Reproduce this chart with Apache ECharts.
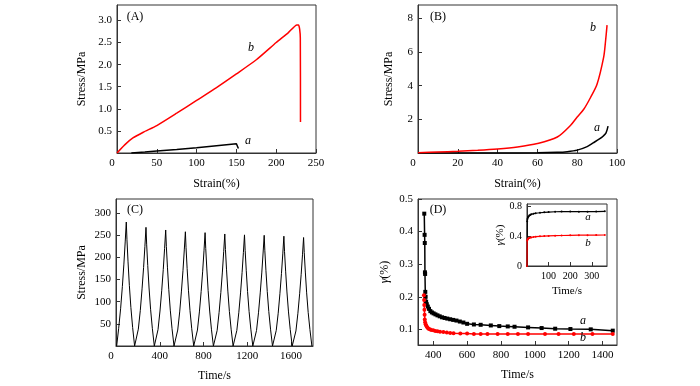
<!DOCTYPE html>
<html><head><meta charset="utf-8">
<script src="https://cdn.jsdelivr.net/npm/echarts@6/dist/echarts.min.js"></script>
<style>html,body{margin:0;padding:0;background:#fff}#c{width:700px;height:386px}</style>
</head><body><div id="c"></div>
<script>
// ---------- Panel A : tensile stress-strain ----------
const aStrainA = [18, 35, 50, 75, 100, 125, 150, 152, 152.5];
const aStressA = [0, 0.02, 0.045, 0.08, 0.12, 0.165, 0.21, 0.215, 0.10];
const bStrainA = [0, 10, 20, 33, 50, 75, 100, 125, 150, 175, 200, 215, 226, 228, 229.5, 230.3, 230.5];
const bStressA = [0, 0.19, 0.34, 0.47, 0.62, 0.9, 1.19, 1.48, 1.79, 2.11, 2.5, 2.72, 2.9, 2.9, 2.8, 2.6, 0.7];
const xTicksA = [0, 50, 100, 150, 200, 250];
const yTicksA = [0.5, 1.0, 1.5, 2.0, 2.5, 3.0];

// ---------- Panel B : compressive stress-strain ----------
const aStrainB = [0, 20, 40, 60, 70, 75, 80, 85, 88, 91, 93, 94.5, 95.5];
const aStressB = [0, 0, 0, 0.01, 0.04, 0.08, 0.17, 0.38, 0.6, 0.82, 1.0, 1.2, 1.6];
const bStrainB = [0, 10, 20, 30, 40, 50, 60, 70, 76.7, 80, 83.3, 86.7, 90, 93.3, 94.2, 95];
const bStressB = [0.02, 0.06, 0.1, 0.16, 0.24, 0.36, 0.56, 0.95, 1.65, 2.14, 2.6, 3.3, 4.1, 5.7, 6.6, 7.6];
const xTicksB = [0, 20, 40, 60, 80, 100];
const yTicksB = [2, 4, 6, 8];

// ---------- Panel C : cyclic compression ----------
const cTime = [
  6, 24, 42, 58, 72, 84, 94, 100, 110, 122, 136, 152, 170,
  186, 204, 222, 238, 252, 264, 274, 280, 290, 302, 316, 332, 350,
  366, 384, 402, 418, 432, 444, 454, 460, 470, 482, 496, 512, 530,
  546, 564, 582, 598, 612, 624, 634, 640, 650, 662, 676, 692, 710,
  726, 744, 762, 778, 792, 804, 814, 820, 830, 842, 856, 872, 890,
  906, 924, 942, 958, 972, 984, 994, 1000, 1010, 1022, 1036, 1052, 1070,
  1086, 1104, 1122, 1138, 1152, 1164, 1174, 1180, 1190, 1202, 1216, 1232, 1250,
  1266, 1284, 1302, 1318, 1332, 1344, 1354, 1360, 1370, 1382, 1396, 1412, 1430,
  1446, 1464, 1482, 1498, 1512, 1524, 1534, 1540, 1550, 1562, 1576, 1592, 1610,
  1626, 1644, 1662, 1678, 1692, 1704, 1714, 1720, 1730, 1742, 1756, 1772, 1790
];
const cStress = [
  0, 39, 84, 134, 185, 235, 280, 241, 190, 137, 87, 42, 0,
  0, 38, 80, 129, 177, 225, 268, 230, 182, 131, 83, 40, 0,
  0, 37, 79, 126, 173, 220, 262, 225, 178, 128, 81, 39, 0,
  0, 36, 77, 124, 170, 217, 258, 222, 175, 126, 80, 39, 0,
  0, 36, 77, 123, 169, 215, 256, 220, 174, 125, 79, 38, 0,
  0, 35, 76, 121, 167, 213, 253, 218, 172, 124, 78, 38, 0,
  0, 35, 75, 120, 166, 211, 251, 216, 171, 123, 78, 38, 0,
  0, 35, 75, 120, 165, 210, 250, 215, 170, 123, 78, 38, 0,
  0, 35, 74, 119, 164, 208, 248, 213, 169, 122, 77, 37, 0,
  0, 34, 74, 118, 162, 206, 245, 211, 167, 120, 76, 37, 0
];
const xTicksC = [0, 400, 800, 1200, 1600];
const yTicksC = [50, 100, 150, 200, 250, 300];

// ---------- Panel D : creep recovery ----------
const aTimeD = [347, 349, 350, 351, 352, 353, 355, 358, 362, 368, 375, 383, 392, 402, 413, 425, 438, 452, 467, 483, 500, 518, 537, 557, 578, 600, 640, 680, 740, 790, 840, 880, 960, 1040, 1120, 1210, 1330, 1460];
const aGammaD = [0.455, 0.39, 0.365, 0.275, 0.27, 0.215, 0.2, 0.185, 0.177, 0.17, 0.163, 0.156, 0.152, 0.149, 0.146, 0.143, 0.14, 0.137, 0.135, 0.133, 0.131, 0.129, 0.127, 0.124, 0.121, 0.117, 0.115, 0.114, 0.112, 0.11, 0.109, 0.108, 0.106, 0.104, 0.102, 0.101, 0.1, 0.096];
const bTimeD = [345, 346, 347, 348, 349, 350, 352, 355, 358, 362, 367, 372, 380, 388, 400, 412, 425, 440, 460, 480, 500, 520, 560, 600, 640, 680, 720, 780, 840, 900, 960, 1060, 1140, 1230, 1340, 1460];
const bGammaD = [0.205, 0.19, 0.175, 0.16, 0.145, 0.13, 0.122, 0.116, 0.112, 0.108, 0.105, 0.102, 0.1, 0.098, 0.097, 0.095, 0.094, 0.093, 0.092, 0.09, 0.089, 0.088, 0.087, 0.087, 0.086, 0.086, 0.086, 0.086, 0.086, 0.086, 0.086, 0.086, 0.086, 0.086, 0.086, 0.086];
const xTicksD = [400, 600, 800, 1000, 1200, 1400];
const yTicksD = [0.1, 0.2, 0.3, 0.4, 0.5];

// ---------- Inset of D ----------
const insetTime = [0, 1, 2, 4, 6, 10, 15, 20, 30, 40, 60, 80, 100, 130, 160, 200, 240, 280, 320, 360];
const insetA = [0, 0.6, 0.63, 0.65, 0.66, 0.675, 0.685, 0.692, 0.7, 0.706, 0.713, 0.718, 0.722, 0.726, 0.728, 0.728, 0.727, 0.727, 0.728, 0.732];
const insetB = [0, 0.34, 0.355, 0.365, 0.37, 0.375, 0.38, 0.383, 0.388, 0.392, 0.397, 0.4, 0.403, 0.406, 0.408, 0.41, 0.412, 0.413, 0.414, 0.415];
const xTicksIn = [100, 200, 300];
const yTicksIn = [0, 0.4, 0.8];

const FONT = "'Liberation Serif', 'DejaVu Serif', serif";
const AX = '#333';
const pair = (xs, ys) => xs.map((x, i) => [x, ys[i]]);

function xAx(gi, min, max, ticks, name, gap, fs, fmt) {
  return {
    type: 'value', gridIndex: gi, min, max, name, nameLocation: 'middle', nameGap: gap,
    nameTextStyle: { fontFamily: FONT, fontSize: fs + 1, color: '#000' },
    axisLine: { show: true, onZero: false, lineStyle: { color: AX, width: 1 } },
    axisTick: { show: true, inside: true, length: 4, customValues: ticks, lineStyle: { color: AX } },
    axisLabel: { customValues: ticks, fontFamily: FONT, fontSize: fs, color: '#000', margin: 5,
      formatter: fmt || (v => (v === 0 ? '{o|0}' : String(v))),
      rich: { o: { fontFamily: FONT, fontSize: fs, color: '#000', padding: [0, 10, 0, 0] } } },
    splitLine: { show: false }
  };
}
function yAx(gi, min, max, ticks, name, gap, fs, fmt, nameRich) {
  return {
    type: 'value', gridIndex: gi, min, max, name, nameLocation: 'middle', nameGap: gap,
    nameTextStyle: { fontFamily: FONT, fontSize: fs + 1, color: '#000', rich: nameRich },
    axisLine: { show: true, onZero: false, lineStyle: { color: AX, width: 1 } },
    axisTick: { show: true, inside: true, length: 4, customValues: ticks, lineStyle: { color: AX } },
    axisLabel: { customValues: ticks, fontFamily: FONT, fontSize: fs, color: '#000', margin: 5, formatter: fmt },
    splitLine: { show: false }
  };
}
const gRich = { g: { fontFamily: FONT, fontStyle: 'italic', fontSize: 12, color: '#000' } };
const gRichS = { g: { fontFamily: FONT, fontStyle: 'italic', fontSize: 11, color: '#000' } };

function txt(x, y, s, italic, fs) {
  return { type: 'text', x, y, z: 100, style: { text: s, fill: '#000', fontFamily: FONT,
    fontSize: fs || 12, fontStyle: italic ? 'italic' : 'normal', align: 'center', verticalAlign: 'middle' } };
}

const chart = echarts.init(document.getElementById('c'), null, { renderer: 'canvas' });
chart.setOption({
  animation: false,
  backgroundColor: '#fff',
  grid: [
    { left: 117, top: 5, width: 199, height: 148, show: true, borderColor: AX, borderWidth: 1 },
    { left: 418, top: 5, width: 199, height: 148, show: true, borderColor: AX, borderWidth: 1 },
    { left: 116, top: 199, width: 197, height: 147, show: true, borderColor: AX, borderWidth: 1 },
    { left: 418, top: 199, width: 199, height: 146, show: true, borderColor: AX, borderWidth: 1 },
    { left: 527, top: 204, width: 80, height: 62, show: true, borderColor: AX, borderWidth: 1, backgroundColor: '#fff', z: 5 }
  ],
  xAxis: [
    xAx(0, 0, 250, xTicksA, 'Strain(%)', 25, 11),
    xAx(1, 0, 100, xTicksB, 'Strain(%)', 25, 11),
    xAx(2, 0, 1800, xTicksC, 'Time/s', 24, 11),
    xAx(3, 310, 1485, xTicksD, 'Time/s', 24, 11, v => String(v)),
    Object.assign(xAx(4, 0, 370, xTicksIn, 'Time/s', 20, 10, v => String(v)), { z: 6 })
  ],
  yAxis: [
    yAx(0, 0, 3.35, yTicksA, 'Stress/MPa', 29, 11, v => v.toFixed(1)),
    yAx(1, 0, 8.8, yTicksB, 'Stress/MPa', 23, 11, v => String(v)),
    yAx(2, 0, 332, yTicksC, 'Stress/MPa', 28, 11, v => String(v)),
    yAx(3, 0.052, 0.5, yTicksD, '{g|γ}(%)', 27, 11, v => v.toFixed(1), gRich),
    Object.assign(yAx(4, 0, 0.83, yTicksIn, '{g|γ}(%)', 15, 10, v => (v === 0 ? '0' : v.toFixed(1)), gRichS), { z: 6 })
  ],
  series: [
    { type: 'line', xAxisIndex: 0, yAxisIndex: 0, data: pair(bStrainA, bStressA), showSymbol: false, smooth: 0.2,
      lineStyle: { color: '#ff0000', width: 1.5 }, itemStyle: { color: '#ff0000' } },
    { type: 'line', xAxisIndex: 0, yAxisIndex: 0, data: pair(aStrainA, aStressA), showSymbol: false,
      lineStyle: { color: '#000', width: 1.5 }, itemStyle: { color: '#000' } },
    { type: 'line', xAxisIndex: 1, yAxisIndex: 1, data: pair(aStrainB, aStressB), showSymbol: false, smooth: 0.3,
      lineStyle: { color: '#000', width: 1.5 }, itemStyle: { color: '#000' } },
    { type: 'line', xAxisIndex: 1, yAxisIndex: 1, data: pair(bStrainB, bStressB), showSymbol: false, smooth: 0.3,
      lineStyle: { color: '#ff0000', width: 1.5 }, itemStyle: { color: '#ff0000' } },
    { type: 'line', xAxisIndex: 2, yAxisIndex: 2, data: pair(cTime, cStress), showSymbol: false,
      lineStyle: { color: '#000', width: 1 }, itemStyle: { color: '#000' } },
    { type: 'line', xAxisIndex: 3, yAxisIndex: 3, data: pair(aTimeD, aGammaD), symbol: 'rect', symbolSize: 4, showAllSymbol: true,
      lineStyle: { color: '#000', width: 1.5 }, itemStyle: { color: '#000' } },
    { type: 'line', xAxisIndex: 3, yAxisIndex: 3, data: pair(bTimeD, bGammaD), symbol: 'circle', symbolSize: 4, showAllSymbol: true,
      lineStyle: { color: '#ff0000', width: 1.5 }, itemStyle: { color: '#ff0000' } },
    { type: 'line', xAxisIndex: 4, yAxisIndex: 4, data: pair(insetTime, insetA), symbol: 'circle', symbolSize: 2, showAllSymbol: true, z: 7,
      lineStyle: { color: '#000', width: 1.2 }, itemStyle: { color: '#000' } },
    { type: 'line', xAxisIndex: 4, yAxisIndex: 4, data: pair(insetTime, insetB), symbol: 'circle', symbolSize: 2, showAllSymbol: true, z: 7,
      lineStyle: { color: '#ff0000', width: 1.2 }, itemStyle: { color: '#ff0000' } }
  ],
  graphic: [
    txt(135, 17, '(A)'), txt(248, 141, 'a', true), txt(251, 48, 'b', true),
    txt(438, 17, '(B)'), txt(597, 128, 'a', true), txt(593, 28, 'b', true),
    txt(135, 210, '(C)'),
    txt(438, 210, '(D)'), txt(583, 321, 'a', true), txt(583, 338, 'b', true),
    txt(588, 217, 'a', true, 11), txt(588, 243, 'b', true, 11)
  ]
});
</script></body></html>
